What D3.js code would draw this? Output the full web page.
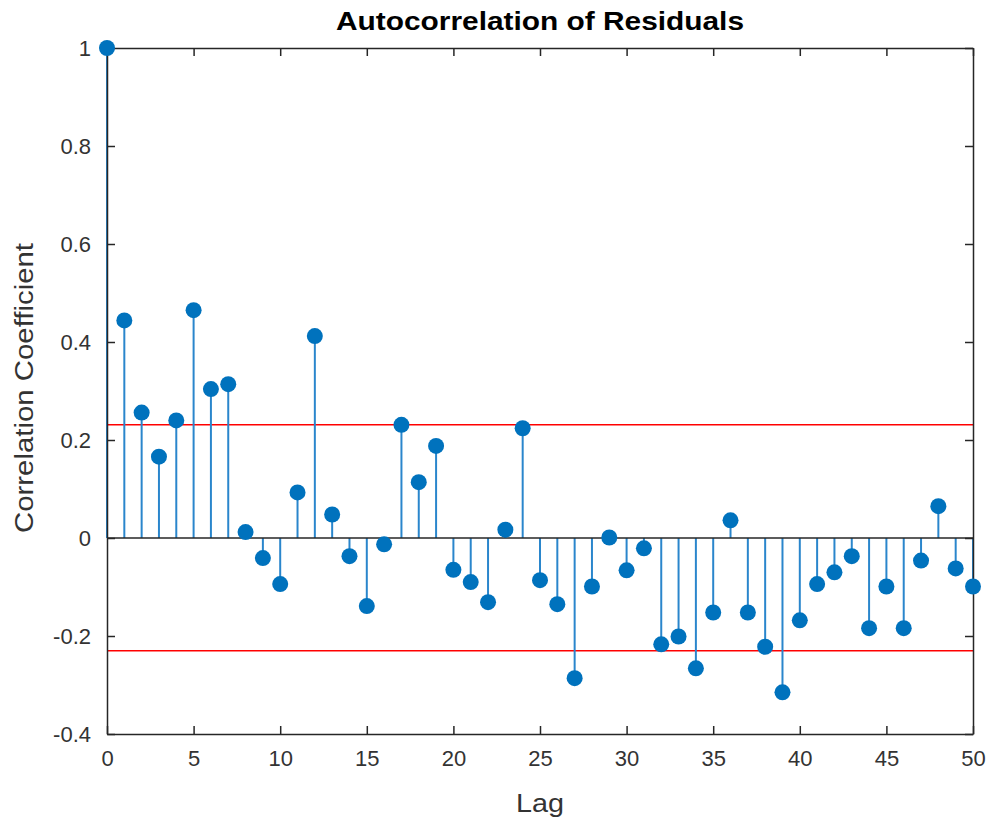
<!DOCTYPE html>
<html>
<head>
<meta charset="utf-8">
<script src="https://cdn.jsdelivr.net/npm/d3@7"></script>
<style>
  html, body { margin: 0; padding: 0; background: #fff; }
  svg { display: block; font-family: "Liberation Sans", Arial, sans-serif; }
</style>
</head>
<body>
<svg id="chart" width="991" height="820"></svg>
<script>
const lags = d3.range(0, 51);
const acf = [1.0, 0.444, 0.256, 0.166, 0.240, 0.465, 0.304, 0.314, 0.012, -0.041,
  -0.094, 0.093, 0.412, 0.048, -0.037, -0.139, -0.013, 0.231, 0.114, 0.188,
  -0.065, -0.090, -0.131, 0.017, 0.224, -0.086, -0.135, -0.286, -0.099, 0.001,
  -0.066, -0.021, -0.217, -0.201, -0.266, -0.152, 0.036, -0.152, -0.222, -0.315,
  -0.168, -0.094, -0.070, -0.037, -0.184, -0.099, -0.184, -0.046, 0.065, -0.062,
  -0.099];
const bounds = [0.231, -0.230];
const xTicks = [0, 5, 10, 15, 20, 25, 30, 35, 40, 45, 50];
const yTicks = [-0.4, -0.2, 0, 0.2, 0.4, 0.6, 0.8, 1];
const titleText = "Autocorrelation of Residuals";
const xLabel = "Lag";
const yLabel = "Correlation Coefficient";

const m = { left: 107, right: 973, top: 48, bottom: 734 };
const svg = d3.select("#chart");
const x = d3.scaleLinear().domain([0, 50]).range([m.left, m.right]);
const y = d3.scaleLinear().domain([-0.4, 1]).range([m.bottom, m.top]);
const axisColor = "#262626";

// red confidence bounds
svg.append("g").selectAll("line").data(bounds).join("line")
  .attr("x1", x(0)).attr("x2", x(50))
  .attr("y1", d => y(d)).attr("y2", d => y(d))
  .attr("stroke", "#ff0000").attr("stroke-width", 1.6);

// stems
svg.append("g").selectAll("line").data(lags).join("line")
  .attr("x1", d => x(d)).attr("x2", d => x(d))
  .attr("y1", y(0)).attr("y2", (d, i) => y(acf[i]))
  .attr("stroke", "#2a86cc").attr("stroke-width", 2);

// baseline
svg.append("line")
  .attr("x1", x(0)).attr("x2", x(50)).attr("y1", y(0)).attr("y2", y(0))
  .attr("stroke", axisColor).attr("stroke-width", 1.5);

// axes (box with inner ticks)
const tickLen = 8;
const fmtY = d => (d === 0 || d === 1) ? String(d) : d3.format(".1f")(d).replace("−", "-");
const styleAxis = g => {
  g.select(".domain").attr("stroke", axisColor).attr("stroke-width", 1.5);
  g.selectAll(".tick line").attr("stroke", axisColor).attr("stroke-width", 1.5);
  g.selectAll(".tick text").attr("fill", "#333").attr("font-size", 22);
};
svg.append("g").attr("transform", `translate(0,${m.bottom})`)
  .call(d3.axisBottom(x).tickValues(xTicks).tickSizeInner(-tickLen).tickSizeOuter(0).tickPadding(16))
  .call(styleAxis);
svg.append("g").attr("transform", `translate(0,${m.top})`)
  .call(d3.axisTop(x).tickValues(xTicks).tickSizeInner(-tickLen).tickSizeOuter(0).tickFormat(""))
  .call(styleAxis);
svg.append("g").attr("transform", `translate(${m.left},0)`)
  .call(d3.axisLeft(y).tickValues(yTicks).tickSizeInner(-tickLen).tickSizeOuter(0).tickPadding(16).tickFormat(fmtY))
  .call(styleAxis);
svg.append("g").attr("transform", `translate(${m.right},0)`)
  .call(d3.axisRight(y).tickValues(yTicks).tickSizeInner(-tickLen).tickSizeOuter(0).tickFormat(""))
  .call(styleAxis);
svg.selectAll(".tick text").attr("font-family", "'Liberation Sans', Arial, sans-serif");

// markers
svg.append("g").selectAll("circle").data(lags).join("circle")
  .attr("cx", d => x(d)).attr("cy", (d, i) => y(acf[i]))
  .attr("r", 8).attr("fill", "#0072bd");

// title and labels
svg.append("text").attr("x", (m.left + m.right) / 2).attr("y", 30)
  .attr("text-anchor", "middle").attr("font-weight", "bold").attr("font-size", 25)
  .attr("textLength", 408).attr("lengthAdjust", "spacingAndGlyphs")
  .attr("fill", "#000").text(titleText);
svg.append("text").attr("x", (m.left + m.right) / 2).attr("y", 812)
  .attr("text-anchor", "middle").attr("font-size", 26)
  .attr("textLength", 48).attr("lengthAdjust", "spacingAndGlyphs")
  .attr("fill", "#333").text(xLabel);
svg.append("text").attr("transform", `translate(33,${(m.top + m.bottom) / 2 - 3}) rotate(-90)`)
  .attr("text-anchor", "middle").attr("font-size", 26)
  .attr("textLength", 290).attr("lengthAdjust", "spacingAndGlyphs")
  .attr("fill", "#333").text(yLabel);
</script>
</body>
</html>
